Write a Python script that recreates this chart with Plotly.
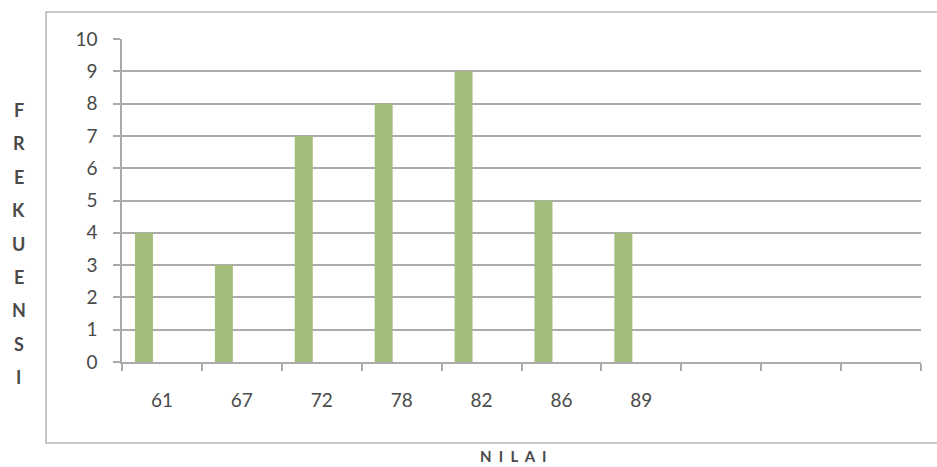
import plotly.graph_objects as go

# Frequency distribution of scores (NILAI) with three empty trailing categories
categories = ["61", "67", "72", "78", "82", "86", "89", " ", "  ", "   "]
frequencies = [4, 3, 7, 8, 9, 5, 4, None, None, None]
y_ticks = list(range(0, 11))
y_title_letters = list("FREKUENSI")
x_title = "NILAI"

W, H = 937, 467
L, R, T, B = 122, 16, 39, 105
plot_w = W - L - R
plot_h = H - T - B

AXIS_GREY = "#ABABAB"
TEXT_GREY = "#4A4A4A"
BAR_GREEN = "#A3BD7D"
FONT = "Lato, 'Liberation Sans', sans-serif"

fig = go.Figure()
fig.add_trace(go.Bar(
    x=categories,
    y=frequencies,
    marker=dict(color=BAR_GREEN, line=dict(width=0)),
    width=0.225,
    offset=-0.3375,
    hoverinfo="x+y",
))


def px_to_paper_x(px):
    return (px - L) / plot_w


def px_to_paper_y(py):
    return (H - B - py) / plot_h


shapes = [
    # outer chart-area frame (open on the right edge)
    dict(type="rect", xref="paper", yref="paper",
         x0=px_to_paper_x(46), x1=px_to_paper_x(945),
         y0=px_to_paper_y(443), y1=px_to_paper_y(12),
         line=dict(color="#B5B5B5", width=1.5), fillcolor="rgba(0,0,0,0)",
         layer="below"),
]

annotations = []
# vertical, letter-stacked y-axis title
for i, ch in enumerate(y_title_letters):
    annotations.append(dict(
        text=ch, xref="paper", yref="paper",
        x=px_to_paper_x(19), y=px_to_paper_y(110 + i * 33.4),
        showarrow=False, xanchor="center", yanchor="middle",
        font=dict(family=FONT, size=18, color=TEXT_GREY, weight="bold"),
    ))
# letter-spaced x-axis title
annotations.append(dict(
    text="&nbsp;&nbsp;".join(x_title), xref="paper", yref="paper",
    x=px_to_paper_x(513), y=px_to_paper_y(456),
    showarrow=False, xanchor="center", yanchor="middle",
    font=dict(family=FONT, size=15, color=TEXT_GREY, weight="bold"),
))

fig.update_layout(
    width=W, height=H,
    margin=dict(l=L, r=R, t=T, b=B, pad=0),
    paper_bgcolor="white", plot_bgcolor="white",
    showlegend=False,
    font=dict(family=FONT, color=TEXT_GREY),
    shapes=shapes,
    annotations=annotations,
)

fig.update_xaxes(
    type="category",
    categoryorder="array", categoryarray=categories,
    range=[-0.5, len(categories) - 0.5],
    showline=True, linecolor=AXIS_GREY, linewidth=1.5,
    ticks="outside", tickson="boundaries", ticklen=7,
    tickcolor=AXIS_GREY, tickwidth=1.5,
    showgrid=False, zeroline=False,
    tickfont=dict(family=FONT, size=19, color=TEXT_GREY),
    ticklabelstandoff=20,
    fixedrange=True,
)

fig.update_yaxes(
    range=[0, 10],
    tickvals=y_ticks,
    showline=True, linecolor=AXIS_GREY, linewidth=1.5,
    ticks="outside", ticklen=7, tickcolor=AXIS_GREY, tickwidth=1.5,
    showgrid=True, gridcolor=AXIS_GREY, gridwidth=1.5,
    zeroline=False,
    tickfont=dict(family=FONT, size=19, color=TEXT_GREY),
    ticklabelstandoff=12,
    fixedrange=True,
)

fig.write_html("out.html")
